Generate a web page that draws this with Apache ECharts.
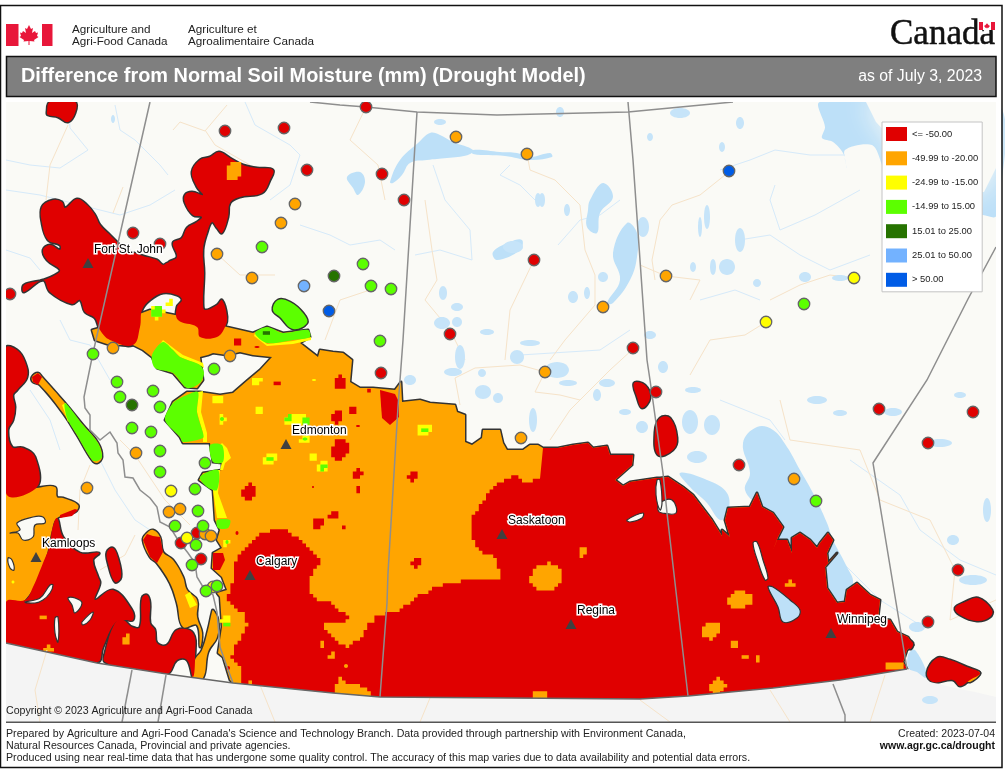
<!DOCTYPE html>
<html>
<head>
<meta charset="utf-8">
<title>Difference from Normal Soil Moisture</title>
<script src="https://cdn.jsdelivr.net/npm/echarts@6/dist/echarts.min.js"></script>
<style>
html, body { margin: 0; padding: 0; background: #fff; }
#echarts_id { width: 1005px; height: 770px; }
</style>
</head>
<body>
<div id="echarts_id"></div>
<script>
// classes, same order as the legend
var classNames = ['<= -50.00', '-49.99 to -20.00', '-24.99 to -15.00', '-14.99 to 15.00', '15.01 to 25.00', '25.01 to 50.00', '> 50.00'];
var classColors = ['#e00000', '#ffa500', '#ffff00', '#5cff00', '#267300', '#73b2ff', '#005ce6'];

// stations, map x / map y
var stationsRed = [[225,131],[284,128],[366,107],[307,170],[382,174],[404,200],[133,233],[160,244],[10,294],[534,260],[450,334],[633,348],[381,373],[656,392],[739,465],[879,409],[973,412],[928,443],[958,570],[928,622],[197,533],[181,543],[201,559]];
var stationsOrange = [[456,137],[527,154],[295,204],[281,223],[217,254],[252,278],[666,276],[603,307],[113,348],[230,356],[545,372],[521,438],[794,479],[136,453],[87,488],[169,512],[180,509],[205,534],[211,536]];
var stationsYellow = [[854,278],[766,322],[171,491],[187,538],[213,587]];
var stationsGreen = [[262,247],[363,264],[371,286],[391,289],[804,304],[380,341],[93,354],[214,369],[117,382],[120,397],[153,391],[160,407],[132,428],[151,432],[160,451],[205,463],[160,472],[195,489],[198,511],[175,526],[203,526],[196,545],[192,565],[206,591],[217,586],[816,501]];
var stationsDarkGreen = [[334,276],[132,405]];
var stationsLightBlue = [[304,286]];
var stationsBlue = [[729,171],[329,311]];

var cityNames = ['Fort St. John', 'Edmonton', 'Calgary', 'Kamloops', 'Saskatoon', 'Regina', 'Winnipeg'];
var cityPoints = [[88,263],[286,444],[250,575],[36,557],[502,534],[571,624],[831,633]];

// base map
var landArea = [[6,102],[996,102],[996,722],[6,722]];
var usArea = [[6,643],[97,663],[167,674],[233,683],[333,693],[380,697],[640,699],[688,696],[773,688],[840,680],[907,669],[917,672],[930,682],[955,688],[975,692],[996,697],[996,722],[6,722]];
var hudsonBay = [[820,102],[825,127],[822,138],[833,142],[843,153],[847,168],[845,150],[872,145],[882,165],[888,187],[895,203],[983,215],[996,216],[996,102]];
var openBay = [[866,102],[876,122],[888,135],[900,160],[916,192],[984,192],[996,168],[996,102]];
var bigLakes = [
    [[390,182],[400,160],[418,143],[430,133],[440,135],[453,142],[473,150],[468,155],[447,158],[427,160],[410,163],[402,175],[393,183]],
    [[473,150],[500,152],[517,153],[530,157],[550,153],[552,157],[530,160],[505,156],[473,154]],
    [[347,177],[360,172],[365,182],[358,195],[353,188]],
    [[590,200],[603,183],[613,197],[600,213],[597,233],[587,227],[588,210]],
    [[613,253],[627,223],[637,233],[637,257],[630,280],[613,303],[607,303],[620,280]],
    [[493,252],[510,242],[522,240],[520,250],[497,260]],
    [[743,443],[757,427],[773,430],[787,447],[800,470],[813,493],[827,523],[833,540],[847,567],[853,583],[843,603],[837,600],[820,590],[800,560],[770,540],[760,510],[745,490],[750,473]],
    [[680,473],[707,480],[727,493],[728,513],[720,520],[707,503],[690,487]],
    [[915,650],[927,677],[910,670],[908,655]]
];
var smallLakes = [[483,392,8,7],[498,398,5,5],[533,420,4,12],[453,372,9,4],[410,380,6,5],[482,373,4,4],[557,370,12,8],[568,383,9,3],[517,357,7,7],[597,395,4,6],[607,383,8,4],[625,412,6,3],[642,427,6,6],[663,367,5,6],[460,357,5,12],[693,390,8,3],[690,422,8,12],[712,425,8,10],[697,457,10,6],[817,400,10,4],[840,413,7,3],[893,412,9,4],[940,443,12,4],[953,540,6,5],[973,580,14,5],[987,510,4,12],[960,395,6,3],[917,627,8,5],[538,200,3,7],[567,210,3,6],[573,297,5,6],[443,293,4,7],[457,307,6,4],[442,323,8,6],[457,322,5,5],[487,332,7,3],[530,343,10,3],[650,335,6,4],[587,293,3,6],[603,277,5,5],[740,240,5,12],[727,267,8,8],[707,217,3,12],[700,227,2,10],[643,227,6,10],[542,200,3,7],[513,247,10,6],[722,147,3,5],[680,113,10,5],[740,123,4,6],[650,137,3,4],[840,278,8,3],[805,277,6,5],[757,283,4,4],[713,267,3,8],[693,267,3,5],[440,122,6,3],[560,112,4,5],[113,119,2,4]];
var usLakes = [[930,700,8,4]];
var rivers = [
    [[6,160],[30,165],[60,168],[88,150],[70,128],[68,102]],
    [[6,190],[40,195],[80,205],[120,215],[150,205],[175,190]],
    [[6,250],[30,258],[40,270]],
    [[115,105],[120,130],[135,140],[160,165],[168,175]],
    [[245,102],[255,125],[290,145],[300,155],[290,185],[270,200]],
    [[300,225],[330,235],[350,245],[380,240],[395,250]],
    [[60,320],[70,340],[90,345],[110,380]],
    [[100,460],[115,490],[135,520],[150,530]],
    [[30,390],[50,420],[60,450]],
    [[433,165],[445,200],[470,230],[472,260],[440,250],[415,255]],
    [[510,165],[500,175],[520,185],[540,205]],
    [[558,245],[580,220],[600,215],[620,200]],
    [[720,170],[750,160],[775,150],[810,155],[845,155]],
    [[775,185],[770,200],[780,230],[815,215],[860,190]],
    [[739,240],[770,235],[800,255],[830,270],[870,255]],
    [[700,300],[735,290],[760,300]],
    [[520,355],[600,350],[630,330]],
    [[720,400],[770,420],[785,440]],
    [[850,460],[900,495],[920,530],[960,560],[996,575]],
    [[840,560],[880,600],[920,625]]
];
var roads = [
    [[173,130],[180,122],[205,131],[227,105]],
    [[205,130],[215,145],[250,165]],
    [[68,125],[50,165],[46,200]],
    [[123,187],[113,213]],
    [[366,107],[350,140],[378,165],[380,175],[385,200]],
    [[425,200],[432,250],[437,280],[425,300],[450,330],[465,360]],
    [[533,262],[510,310],[505,360]],
    [[527,154],[530,170],[555,180],[580,205],[585,250],[595,275],[595,305],[565,340],[550,360]],
    [[545,372],[520,365],[475,368],[455,378],[460,405]],
    [[545,372],[535,392],[560,395],[580,400],[570,410],[550,440]],
    [[633,349],[610,370],[580,400]],
    [[725,175],[700,195],[672,205],[660,220],[652,260],[655,280]],
    [[640,265],[666,276],[700,280],[690,300]],
    [[854,278],[830,275],[800,285],[770,300]],
    [[766,322],[745,335],[710,340],[690,375]],
    [[370,290],[340,300],[325,340]],
    [[217,254],[240,275],[275,275]],
    [[120,440],[135,455],[165,500],[190,525]],
    [[100,570],[125,555],[135,535]],
    [[90,465],[80,490],[78,530]],
    [[780,400],[790,440],[860,450],[880,500],[930,520],[955,570],[950,620],[996,600]]
];
var usRoads = [
    [[47,650],[35,690],[40,722]],
    [[260,685],[275,722]],
    [[640,700],[670,722]],
    [[770,690],[790,722]],
    [[430,698],[420,722]],
    [[885,675],[870,722]]
];

// drought areas, outer edge against the map
var southBorder = [[233,683],[333,693],[380,697],[640,699],[688,696],[773,688],[840,680],[907,669]];
var eastTop = [[903,662],[907,650],[913,645],[908,637],[897,632],[890,620],[878,618],[880,600],[870,595],[857,583],[847,590],[845,602],[837,603],[827,588],[825,567],[837,553],[828,563],[827,553],[833,540],[828,533],[820,543],[817,548],[810,540],[800,533],[792,538],[792,553],[787,540],[777,540],[773,550],[778,537],[783,527],[773,513],[762,507],[757,493],[750,507],[728,508],[725,520],[730,537],[722,530],[722,540],[732,552],[712,520],[693,495],[683,487],[668,477],[660,478],[657,478],[630,482],[623,486],[615,480],[632,465],[633,455],[610,455],[607,446],[593,448],[588,443],[573,445],[558,448],[543,448]];
var westTop = [[538,445],[530,445],[523,450],[507,450],[503,443],[500,430],[483,430],[482,438],[472,445],[465,442],[465,415],[457,412],[455,405],[430,403],[420,400],[402,402],[401,382],[395,390],[373,388],[360,388],[350,382],[352,360],[343,353],[333,352],[320,350],[318,357],[300,343],[310,337],[308,330],[283,333],[267,327],[253,333],[227,327],[200,320],[150,310],[110,325],[92,330],[95,340],[110,345],[133,345],[143,350],[152,357],[157,368],[173,373],[185,387],[197,388],[203,380],[200,357],[208,355],[213,353],[227,355],[240,352],[253,355],[272,357],[260,370],[248,380],[233,393],[220,395],[200,392],[187,392],[173,402],[165,420],[180,437],[183,443],[210,443],[213,462],[222,463],[222,470],[203,473],[199,480],[213,490],[215,520],[220,530],[217,540],[222,548],[213,553],[212,568],[222,577],[227,590],[217,593],[220,597],[222,627],[218,653],[223,657],[230,680]];
var prairieArea = southBorder.concat(eastTop, westTop);
var orangeAreas = [
    [[6,493],[37,488],[55,487],[57,497],[63,498],[78,505],[75,512],[57,518],[52,530],[45,560],[25,600],[6,602]],
    [[32,377],[38,373],[42,377],[65,403],[83,425],[98,443],[102,457],[97,463],[92,460],[77,435],[63,413],[40,385],[33,382]],
    [[143,540],[147,533],[153,530],[160,537],[163,552],[173,560],[183,577],[187,590],[197,600],[197,617],[202,633],[200,647],[197,625],[183,627],[177,603],[170,583],[157,563],[150,557]],
    [[213,610],[218,620],[217,637],[208,652],[203,678],[193,678],[195,660],[202,650],[208,630],[212,612]],
    [[965,678],[970,671],[980,673],[970,682]]
];
var redAreas = [
    [[42,207],[53,200],[62,202],[65,208],[77,199],[87,205],[95,215],[100,225],[110,235],[117,242],[123,248],[140,255],[157,260],[163,265],[168,263],[172,271],[168,263],[177,257],[173,243],[182,238],[187,228],[197,222],[202,217],[193,215],[185,203],[185,195],[192,192],[203,195],[197,187],[192,172],[200,160],[210,157],[219,152],[230,158],[243,165],[257,168],[273,170],[270,180],[262,193],[240,197],[230,203],[228,217],[222,233],[217,228],[212,222],[207,233],[203,250],[204,273],[203,303],[205,310],[217,305],[222,300],[227,317],[225,327],[217,337],[200,337],[197,327],[178,320],[177,307],[182,300],[177,295],[163,293],[150,300],[142,310],[140,327],[133,345],[110,340],[100,330],[95,318],[85,312],[80,300],[72,304],[50,292],[43,280],[24,292],[24,285],[43,280],[55,275],[60,270],[47,260],[43,250],[50,245],[60,250],[60,245],[48,240],[42,223]],
    [[47,112],[50,102],[75,102],[75,113],[68,122],[58,117],[48,115]],
    [[6,348],[17,350],[25,362],[27,377],[17,390],[13,395],[15,407],[13,420],[8,430],[12,447],[23,448],[35,457],[37,487],[6,493]],
    [[57,518],[63,537],[80,553],[99,553],[93,560],[98,577],[100,583],[95,600],[113,590],[132,610],[133,620],[125,620],[115,623],[103,647],[97,662],[6,643],[6,602],[25,600],[33,587],[43,563],[50,545],[52,530]],
    [[105,653],[115,623],[123,620],[132,627],[140,627],[142,598],[147,595],[150,603],[150,623],[155,630],[157,643],[167,645],[177,630],[193,633],[195,657],[193,677],[187,660],[177,660],[167,674],[133,670],[105,662]],
    [[107,552],[113,548],[118,558],[121,577],[115,582],[108,563]],
    [[634,383],[645,385],[650,398],[642,408],[637,397]],
    [[655,432],[660,418],[670,418],[677,438],[673,450],[658,455]],
    [[955,608],[965,602],[978,598],[992,610],[990,617],[977,621],[960,615]],
    [[927,673],[937,658],[950,660],[967,667],[980,673],[970,680],[960,686],[953,680],[933,682]],
    [[903,637],[913,643],[910,649]]
];
var redInsideEdge = [[540,480],[527,482],[517,475],[500,483],[487,497],[473,517],[470,533],[477,550],[497,558],[500,580],[480,578],[447,584],[420,595],[400,612],[377,615],[362,637],[350,648],[333,637],[322,625],[333,620],[343,623],[348,615],[333,603],[313,598],[308,583],[313,570],[323,560],[315,553],[300,537],[283,528],[263,533],[247,548],[233,563],[235,577],[227,600],[243,617],[248,627],[233,650],[232,660],[240,667],[243,690],[333,698],[338,678],[353,685],[367,687],[373,702]];
var redOutsideEdge = [[380,702],[640,702],[688,700],[773,692],[840,684],[907,669]].concat(eastTop);
var redPatches = [
    [[380,390],[395,394],[399,402],[399,417],[390,425],[382,418],[381,405]],
    [[60,515],[75,509],[78,510],[72,516],[60,518]],
    [[32,377],[38,373],[42,377],[38,385],[33,382]],
    [[143,540],[147,534],[153,536],[160,537],[163,552],[157,563],[150,557]],
    [[213,553],[223,553],[225,560],[220,570],[213,570]]
];
// cx, cy, rx, ry
var redBlobs = [[248,492,7,8],[319,523,6,6],[333,515,5,5],[340,383,7,7],[353,411,5,5],[337,417,6,6],[340,450,9,11],[357,474,5,5],[358,489,3.5,3.5],[413,477,5,5],[343,528,3,3],[417,563,5,5],[358,426,2,1],[278,382,3,2],[237,343,3.5,3.5],[257,347,2.5,1],[295,387,1.5,3],[313,487,1,1],[237,533,1.5,2],[228,668,2,2],[371,389,4,2]];
var orangeBlobs = [[234,171,8,8],[547,577,17,14],[583,552,3,5],[740,600,12,9],[711,630,10,9],[734,644,4,4],[745,657,3,3],[757,659,3,3],[790,584,5,3],[718,686,8,8],[540,696,9,6],[894,666,10,5],[322,645,3,3],[332,655,3,3],[346,666,2,2],[250,683,3,1],[43,617,4,2.5],[127,640,4,5],[48,649,5,3]];
var yellowAreas = [
    [[198,392],[203,391],[201,412],[207,433],[207,442],[203,442],[203,433],[197,412]],
    [[152,355],[163,340],[176,350],[183,355],[203,363],[204,368],[200,365],[180,357],[173,350],[163,343],[155,355]],
    [[222,443],[227,448],[231,458],[225,463],[223,470],[220,470],[222,462],[220,445]],
    [[215,470],[220,470],[218,493],[227,518],[217,518],[213,490]],
    [[255,333],[267,344],[293,341],[311,337],[311,340],[293,344],[267,346],[254,336]],
    [[62,405],[66,403],[70,420],[68,422]],
    [[185,595],[190,592],[197,605],[190,608]]
];
var yellowBlobs = [[257,381,4,4],[217,400,5,5],[260,411,4,4],[222,419,4,4],[295,420,11,7],[305,439,5,4],[270,459,6,6],[314,458,4,4],[323,467,5,6],[314,380,2,1],[227,542,3,4],[424,430,7,7],[157,312,7,7],[170,304,4,4],[225,620,5,4],[13,582,1.5,1.5]];
var outlinedGreen = [[[273,310],[278,300],[290,302],[303,313],[307,323],[293,329],[280,317]]];
var greenAreas = [
    [[255,333],[267,327],[283,333],[308,330],[310,337],[293,340],[267,343]],
    [[163,342],[173,350],[180,357],[200,365],[204,373],[200,383],[187,388],[173,373],[155,368],[152,355]],
    [[198,392],[197,412],[203,433],[203,438],[183,442],[180,437],[165,420],[173,403],[187,395]],
    [[210,445],[222,445],[223,462],[213,462]],
    [[200,477],[218,470],[217,490],[207,487]],
    [[217,520],[230,520],[228,528],[218,528]],
    [[65,403],[83,425],[98,443],[102,457],[97,461],[92,460],[77,435],[67,418]]
];
var greenBlobs = [[222,419,2,2],[289,419,4,4],[306,422,5,4],[305,439,2.5,1.5],[270,459,3,3],[323,467,3,3],[424,430,4,3],[157,312,5,5],[227,542,1.5,2],[228,624,4,3]];
var darkGreenBlobs = [[266,333,3,2]];
// gaps inside the areas
var gapAreas = [
    [[10,533],[20,530],[17,523],[33,517],[43,517],[45,523],[35,525],[33,537],[23,540],[18,533]],
    [[8,558],[12,560],[14,570],[10,568]],
    [[25,602],[40,598],[50,585],[53,585],[50,593],[43,600],[35,603]],
    [[68,598],[75,598],[82,603],[75,613],[72,605]],
    [[82,622],[93,612],[90,620],[83,625]],
    [[55,618],[58,617],[58,642],[55,633]],
    [[660,503],[672,500],[676,513],[662,513],[658,510]],
    [[627,520],[643,513],[642,518],[630,522]],
    [[657,480],[660,480],[662,503],[660,510],[656,495]],
    [[753,543],[757,542],[763,560],[768,578],[765,580],[758,562]]
];
var gapLakes = [[[768,587],[773,587],[790,600],[800,610],[797,618],[783,622],[778,607]]];

// borders
var provinceLines = [
    [[310,102],[340,105],[366,107],[417,112],[497,115],[628,112],[670,108],[733,102]],
    [[150,102],[93,353],[84,397],[85,408],[90,415],[90,430],[100,440],[110,432],[117,443],[118,453],[123,460],[125,477],[133,478],[140,490],[150,498],[157,507],[160,522],[170,527],[178,540],[188,553],[195,563],[197,577],[203,587],[213,595],[217,612],[220,647],[227,667],[233,683]],
    [[417,112],[403,340],[398,407],[388,573],[387,603],[380,697]],
    [[628,102],[633,160],[647,360],[650,380],[663,473],[667,513],[688,696]],
    [[996,247],[968,299],[927,380],[873,463],[907,669]],
    [[132,670],[122,722]],
    [[166,675],[158,722]],
    [[833,684],[845,715],[845,722]]
];
var borderLine = [[6,643],[97,663],[167,674],[233,683],[333,693],[380,697],[640,699],[688,696],[773,688],[840,680],[907,669]];

// 同一个坐标系: 地图的 x / y
var CELL = 3.6;
function toPixels(api, pts) {
    return pts.map(function (p) { return api.coord(p); });
}
// the model grid shows on inner edges as small steps
function stairs(pts) {
    var out = [];
    for (var i = 0; i < pts.length - 1; i++) {
        var a = pts[i], b = pts[i + 1];
        var n = Math.max(1, Math.ceil(Math.max(Math.abs(b[0] - a[0]), Math.abs(b[1] - a[1])) / CELL));
        for (var k = 0; k <= n; k++) {
            var x = Math.round((a[0] + (b[0] - a[0]) * k / n) / CELL) * CELL;
            var y = Math.round((a[1] + (b[1] - a[1]) * k / n) / CELL) * CELL;
            if (out.length) out.push([x, out[out.length - 1][1]]);
            out.push([x, y]);
        }
    }
    return out;
}
function areaSeries(shapes, style, smooth) {
    return {
        type: 'custom', silent: true, animation: false,
        data: shapes.map(function (s, i) { return i; }),
        renderItem: function (params, api) {
            return { type: 'polygon', shape: { points: toPixels(api, shapes[params.dataIndex]), smooth: smooth || 0 }, style: style };
        }
    };
}
function lineSeries(shapes, style) {
    return {
        type: 'custom', silent: true, animation: false,
        data: shapes.map(function (s, i) { return i; }),
        renderItem: function (params, api) {
            return { type: 'polyline', shape: { points: toPixels(api, shapes[params.dataIndex]) }, style: Object.assign({ fill: null }, style) };
        }
    };
}
function blobSeries(blobs, color) {
    return {
        type: 'custom', silent: true, animation: false,
        data: blobs.map(function (s, i) { return i; }),
        renderItem: function (params, api) {
            var b = blobs[params.dataIndex], pts = [];
            var c = api.coord([b[0], b[1]]);
            for (var i = 0; i <= 16; i++) {
                var t = i / 16 * Math.PI * 2;
                pts.push([c[0] + Math.cos(t) * b[2], c[1] + Math.sin(t) * b[3]]);
            }
            // very small patches stay plain
            var points = Math.max(b[2], b[3]) > 2.5 ? stairs(pts) : pts;
            return { type: 'polygon', shape: { points: points }, style: { fill: color } };
        }
    };
}
function ellipseSeries(items, color) {
    return {
        type: 'custom', silent: true, animation: false,
        data: items.map(function (s, i) { return i; }),
        renderItem: function (params, api) {
            var b = items[params.dataIndex];
            var c = api.coord([b[0], b[1]]);
            return { type: 'ellipse', shape: { cx: c[0], cy: c[1], rx: b[2], ry: b[3] }, style: { fill: color } };
        }
    };
}
// the big prairie area: real outline on the outside, stepped against the orange
var bigRedSeries = {
    type: 'custom', silent: true, animation: false,
    data: [0],
    renderItem: function (params, api) {
        var inner = stairs(toPixels(api, redInsideEdge));
        var outer = toPixels(api, redOutsideEdge);
        return { type: 'polygon', shape: { points: outer.concat(inner) }, style: { fill: classColors[0] } };
    }
};
function stationSeries(i, points) {
    return {
        name: classNames[i], type: 'scatter', data: points, symbol: 'circle', symbolSize: 11.5, animation: false, silent: true,
        itemStyle: { color: classColors[i], borderColor: '#666', borderWidth: 1.3, opacity: 1 }
    };
}

var outlineStyle = { fill: '#333', stroke: '#333', lineWidth: 3, lineJoin: 'round' };
var FONT = '"Liberation Sans", Arial, sans-serif';
function txt(text, x, y, size, extra) {
    return {
        type: 'text', z: 100,
        style: Object.assign({ text: text, x: x, y: y, fontSize: size, fontFamily: FONT, fill: '#222', verticalAlign: 'middle' }, extra || {})
    };
}
function leaf(cx, cy, k, color) {
    var pts = [[0,-10],[2,-6],[4,-7],[3,-2],[6,-4],[7,-2],[9,-2.5],[8,1],[9.5,2],[5,5],[5.5,6.5],[0.5,6],[0.5,10],[-0.5,10],[-0.5,6],[-5.5,6.5],[-5,5],[-9.5,2],[-8,1],[-9,-2.5],[-7,-2],[-6,-4],[-3,-2],[-4,-7],[-2,-6]];
    return {
        type: 'polygon', z: 100,
        shape: { points: pts.map(function (p) { return [cx + p[0] * k, cy + p[1] * k]; }) },
        style: { fill: color }
    };
}

// 基于准备好的dom，初始化echarts实例
var myChart = echarts.init(document.getElementById('echarts_id'), null, { renderer: 'canvas' });

var option = {
    backgroundColor: '#fff',
    animation: false,
    grid: { left: 0, top: 0, width: 1005, height: 770, show: false },
    xAxis: { type: 'value', min: 0, max: 1005, show: false },
    yAxis: { type: 'value', min: 0, max: 770, inverse: true, show: false },
    tooltip: { show: false },
    legend: {
        orient: 'vertical', left: 882, top: 122, padding: [5, 4, 5, 4],
        itemWidth: 21, itemHeight: 14, itemGap: 10.3, itemStyle: { borderWidth: 0, opacity: 1 },
        selectedMode: false, icon: 'rect',
        backgroundColor: '#fff', borderColor: '#c4c4c4', borderWidth: 1,
        textStyle: { fontSize: 9.4, fontFamily: FONT, color: '#222', padding: [0, 0, 0, 0] },
        data: classNames
    },
    series: [
        areaSeries([landArea], { fill: '#fafaf6' }),
        areaSeries([hudsonBay], { fill: '#bde0f8' }, 0.3),
        areaSeries([openBay], { fill: '#fafaf6', shadowBlur: 26, shadowColor: '#fafaf6' }),
        lineSeries(rivers, { stroke: '#d6eafa', lineWidth: 1 }),
        lineSeries(roads, { stroke: '#f6e3c9', lineWidth: 1 }),
        areaSeries(bigLakes, { fill: '#bde0f8' }, 0.4),
        ellipseSeries(smallLakes, '#c6e4f9'),
        // outline first, the fills then cover its inner half
        areaSeries([prairieArea], outlineStyle),
        areaSeries(orangeAreas.concat(redAreas, outlinedGreen), outlineStyle, 0.4),
        areaSeries([prairieArea], { fill: classColors[1] }),
        areaSeries(orangeAreas, { fill: classColors[1] }, 0.4),
        areaSeries(redAreas, { fill: classColors[0] }, 0.4),
        bigRedSeries,
        areaSeries(redPatches, { fill: classColors[0] }),
        blobSeries(redBlobs, classColors[0]),
        blobSeries(orangeBlobs, classColors[1]),
        areaSeries(yellowAreas, { fill: classColors[2] }),
        blobSeries(yellowBlobs, classColors[2]),
        areaSeries(outlinedGreen, { fill: classColors[3] }, 0.4),
        areaSeries(greenAreas, { fill: classColors[3] }, 0.3),
        blobSeries(greenBlobs, classColors[3]),
        blobSeries(darkGreenBlobs, classColors[4]),
        areaSeries(gapAreas, { fill: '#fafaf6', stroke: '#333', lineWidth: 1.2 }, 0.4),
        areaSeries(gapLakes, { fill: '#bde0f8', stroke: '#333', lineWidth: 1.2 }, 0.4),
        // south of the border is drawn last so it trims the areas
        areaSeries([usArea], { fill: '#f4f4f4' }),
        lineSeries(usRoads, { stroke: '#f6e3c9', lineWidth: 1 }),
        ellipseSeries(usLakes, '#c6e4f9'),
        lineSeries(provinceLines, { stroke: '#8e8e8e', lineWidth: 1.5 }),
        lineSeries([borderLine], { stroke: '#666', lineWidth: 1.3 }),
        stationSeries(0, stationsRed),
        stationSeries(1, stationsOrange),
        stationSeries(2, stationsYellow),
        stationSeries(3, stationsGreen),
        stationSeries(4, stationsDarkGreen),
        stationSeries(5, stationsLightBlue),
        stationSeries(6, stationsBlue),
        {
            type: 'scatter', animation: false, silent: true,
            symbol: 'triangle', symbolSize: [11, 10],
            itemStyle: { color: '#404040', opacity: 1 },
            data: cityPoints.map(function (p, i) { return { name: cityNames[i], value: p }; }),
            label: {
                show: true, formatter: '{b}', position: 'right', distance: 0, offset: [0.5, -13],
                fontSize: 12, fontFamily: FONT, color: '#000', textBorderColor: '#fff', textBorderWidth: 3
            }
        }
    ],
    graphic: { elements: [
        // white margins round the map, they trim whatever runs over
        { type: 'rect', z: 50, shape: { x: 1, y: 96, width: 5, height: 628 }, style: { fill: '#fff' } },
        { type: 'rect', z: 50, shape: { x: 1, y: 96, width: 1000, height: 6 }, style: { fill: '#fff' } },
        { type: 'rect', z: 50, shape: { x: 996, y: 96, width: 5.5, height: 628 }, style: { fill: '#fff' } },
        // page frame
        { type: 'rect', z: 90, shape: { x: 0.5, y: 5.5, width: 1001.5, height: 762 }, style: { fill: null, stroke: '#111', lineWidth: 1.5 } },
        // flag
        { type: 'rect', z: 100, shape: { x: 6, y: 24, width: 12.5, height: 22 }, style: { fill: '#e8173a' } },
        { type: 'rect', z: 100, shape: { x: 42, y: 24, width: 10.5, height: 22 }, style: { fill: '#e8173a' } },
        leaf(29, 35, 1, '#e8173a'),
        txt('Agriculture and', 72, 29.5, 11.7), txt('Agri-Food Canada', 72, 42, 11.7),
        txt('Agriculture et', 188, 29.5, 11.7), txt('Agroalimentaire Canada', 188, 42, 11.7),
        // wordmark
        txt('Canada', 890, 35, 35, { fontFamily: '"Liberation Serif", serif', fill: '#111', stroke: '#111', lineWidth: 0.5 }),
        { type: 'rect', z: 101, shape: { x: 979, y: 21, width: 16, height: 9 }, style: { fill: '#fff' } },
        { type: 'rect', z: 102, shape: { x: 979, y: 22, width: 4, height: 8 }, style: { fill: '#e8173a' } },
        { type: 'rect', z: 102, shape: { x: 991, y: 22, width: 4, height: 8 }, style: { fill: '#e8173a' } },
        Object.assign(leaf(987, 26, 0.3, '#e8173a'), { z: 102 }),
        // title bar
        { type: 'rect', z: 99, shape: { x: 6.5, y: 56.5, width: 989.5, height: 40 }, style: { fill: '#7f7f7f', stroke: '#111', lineWidth: 1.5 } },
        txt('Difference from Normal Soil Moisture (mm) (Drought Model)', 21, 77, 19.9, { fontWeight: 'bold', fill: '#fff' }),
        txt('as of July 3, 2023', 982, 77, 15.8, { fill: '#fff', align: 'right' }),
        // footer
        { type: 'rect', z: 99, shape: { x: 6, y: 721.5, width: 990, height: 1.5 }, style: { fill: '#555' } },
        txt('Copyright \u00a9 2023 Agriculture and Agri-Food Canada', 6, 711.5, 10.6),
        txt("Prepared by Agriculture and Agri-Food Canada's Science and Technology Branch. Data provided through partnership with Environment Canada,", 6, 734, 10.65),
        txt('Natural Resources Canada, Provincial and private agencies.', 6, 746, 10.65),
        txt('Produced using near real-time data that has undergone some quality control. The accuracy of this map varies due to data availability and potential data errors.', 6, 758.5, 10.65),
        txt('Created: 2023-07-04', 995, 734, 10.5, { align: 'right' }),
        txt('www.agr.gc.ca/drought', 995, 746.5, 10.5, { align: 'right', fontWeight: 'bold', fill: '#111' })
    ] }
};

// 使用刚指定的配置项和数据显示图表。
myChart.setOption(option);
</script>
</body>
</html>
